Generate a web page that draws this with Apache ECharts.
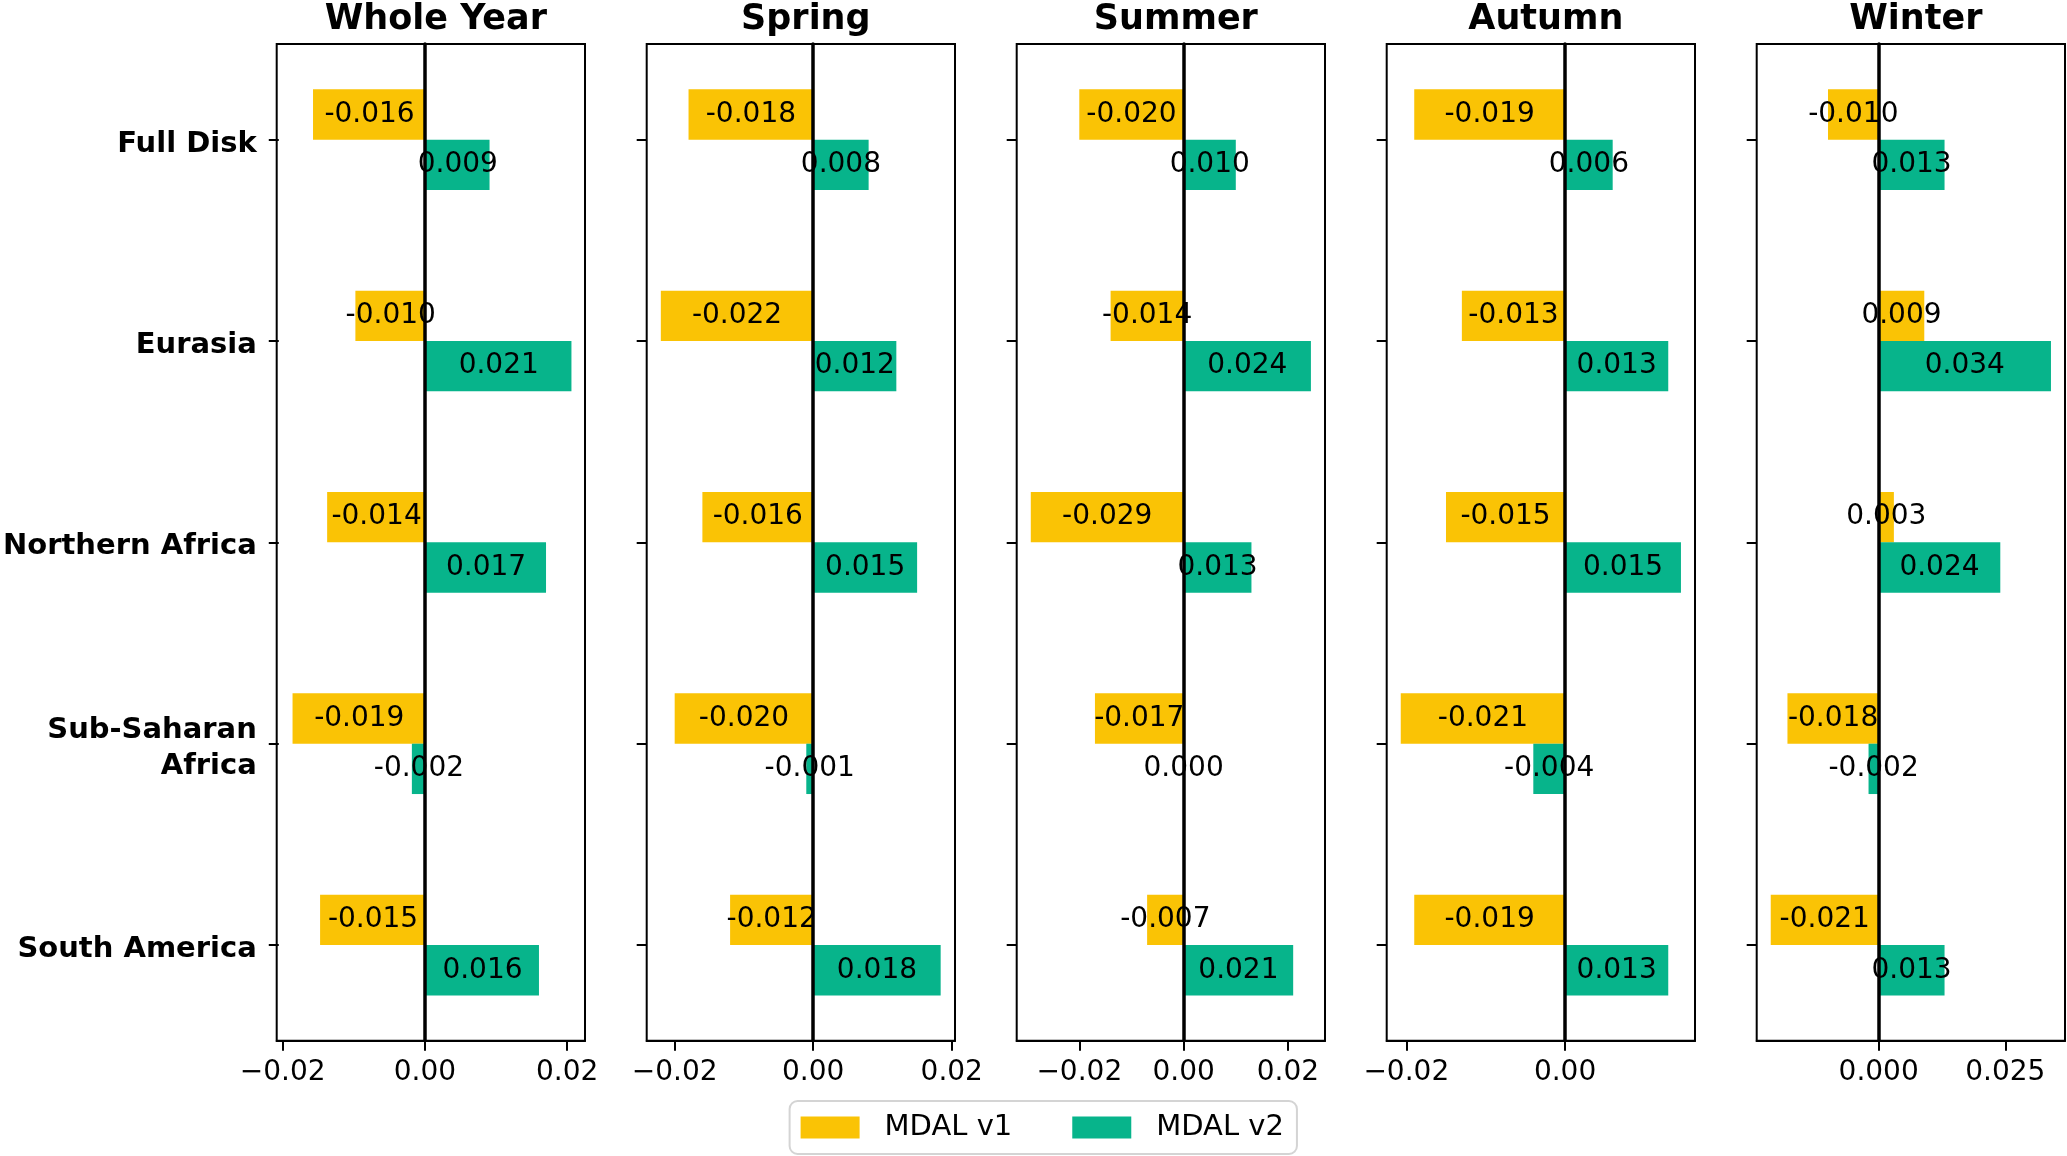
<!DOCTYPE html>
<html>
<head>
<meta charset="utf-8">
<script src="https://cdn.jsdelivr.net/npm/echarts@6/dist/echarts.min.js"></script>
<style>
html,body{margin:0;padding:0;background:#fff;}
#chart{width:2067px;height:1156px;}
</style>
</head>
<body>
<div id="chart"></div>
<script>
// ---- data ----
const categories = ['Full Disk', 'Eurasia', 'Northern Africa', 'Sub-Saharan\nAfrica', 'South America'];
const panelTitles = ['Whole Year', 'Spring', 'Summer', 'Autumn', 'Winter'];
const seriesNames = ['MDAL v1', 'MDAL v2'];

const wholeYearV1 = [-0.016, -0.010, -0.014, -0.0189, -0.015];
const wholeYearV2 = [0.009, 0.0206, 0.017, -0.002, 0.016];
const springV1 = [-0.018, -0.022, -0.016, -0.020, -0.012];
const springV2 = [0.008, 0.012, 0.015, -0.001, 0.0184];
const summerV1 = [-0.020, -0.014, -0.0293, -0.017, -0.007];
const summerV2 = [0.010, 0.0244, 0.013, 0.000, 0.021];
const autumnV1 = [-0.019, -0.013, -0.015, -0.0207, -0.019];
const autumnV2 = [0.006, 0.013, 0.0146, -0.004, 0.013];
const winterV1 = [-0.010, 0.009, 0.003, -0.018, -0.0213];
const winterV2 = [0.013, 0.034, 0.024, -0.002, 0.013];

const wholeYearTicks = [-0.02, 0.00, 0.02];
const springTicks = [-0.02, 0.00, 0.02];
const summerTicks = [-0.02, 0.00, 0.02];
const autumnTicks = [-0.02, 0.00];
const winterTicks = [0.000, 0.025];

// ---- build ----
const v1Sets = [wholeYearV1, springV1, summerV1, autumnV1, winterV1];
const v2Sets = [wholeYearV2, springV2, summerV2, autumnV2, winterV2];
const tickSets = [wholeYearTicks, springTicks, summerTicks, autumnTicks, winterTicks];
const tickDecimals = [2, 2, 2, 2, 3];
const xRanges = [[-0.02085, 0.02252], [-0.02404, 0.02047], [-0.0320, 0.0271], [-0.02247, 0.01637], [-0.02407, 0.03677]];

const colV1 = '#FAC305';
const colV2 = '#07B48B';
const FONT = 'DejaVu Sans';

// frame geometry (matplotlib axes) and category band geometry
const gridLeft0 = 276.7, gridStep = 370, gridW = 308.3, frameTop = 44, frameH = 996.7;
const catStep = frameH / 4.95;           // distance between category centres
const dataTop = frameTop - 0.025 * catStep;
const dataH = 5 * catStep;

const grids = [], xAxes = [], yAxes = [], series = [], titles = [];
for (let i = 0; i < 5; i++) {
  const left = gridLeft0 + gridStep * i;
  const dec = tickDecimals[i];
  // frame grid (index 2i)
  grids.push({left: left, top: frameTop, width: gridW, height: frameH, show: true,
    borderColor: '#000', borderWidth: 2, backgroundColor: 'transparent', containLabel: false});
  // data grid (index 2i+1)
  grids.push({left: left, top: dataTop, width: gridW, height: dataH, show: false, containLabel: false});

  titles.push({text: panelTitles[i], left: left + gridW / 2, top: -3, textAlign: 'center',
    textStyle: {fontFamily: FONT, fontWeight: 'bold', fontSize: 35, color: '#000'}});

  xAxes.push({type: 'value', gridIndex: 2 * i, min: xRanges[i][0], max: xRanges[i][1], z: 10,
    axisLine: {show: true, onZero: false, lineStyle: {color: '#000', width: 2}},
    axisTick: {show: true, length: 10, lineStyle: {color: '#000', width: 2}, customValues: tickSets[i]},
    axisLabel: {show: true, customValues: tickSets[i], margin: 18, fontFamily: FONT, fontSize: 28, color: '#000',
      formatter: function (v) { return (v < 0 ? '\u2212' : '') + Math.abs(v).toFixed(dec); }},
    splitLine: {show: false}});
  xAxes.push({type: 'value', gridIndex: 2 * i + 1, min: xRanges[i][0], max: xRanges[i][1], show: false,
    splitLine: {show: false}});

  // frame y axis: its line sits at x = 0 and forms the zero line
  yAxes.push({type: 'value', gridIndex: 2 * i, min: 0, max: 1, z: 10,
    axisLine: {show: true, onZero: true, lineStyle: {color: '#000', width: 3.5}},
    axisTick: {show: false}, axisLabel: {show: false}, splitLine: {show: false}});
  yAxes.push({type: 'category', gridIndex: 2 * i + 1, data: categories, inverse: true,
    axisLine: {show: false, onZero: false},
    axisTick: {show: true, alignWithLabel: true, length: 10, lineStyle: {color: '#000', width: 2}},
    axisLabel: {show: i === 0, margin: 22, align: 'right',
      formatter: function (v) { return v.split('\n').map(function (s) { return '{c|' + s + '}'; }).join('\n'); },
      rich: {c: {fontFamily: FONT, fontWeight: 'bold', fontSize: 29, color: '#000', lineHeight: 36,
        padding: [9, 0, 0, 0], align: 'right'}}},
    splitLine: {show: false}});

  const mk = function (name, data, color) {
    return {name: name, type: 'bar', xAxisIndex: 2 * i + 1, yAxisIndex: 2 * i + 1, data: data,
      barWidth: catStep * 0.25, barGap: '0%',
      itemStyle: {color: color},
      label: {show: true, position: 'inside', color: '#000', fontFamily: FONT, fontSize: 28,
        formatter: function (p) { return p.value.toFixed(3); }},
      z: 2};
  };
  series.push(mk(seriesNames[0], v1Sets[i], colV1));
  series.push(mk(seriesNames[1], v2Sets[i], colV2));
}

const chart = echarts.init(document.getElementById('chart'));
chart.setOption({
  animation: false,
  backgroundColor: '#fff',
  title: titles,
  grid: grids,
  xAxis: xAxes,
  yAxis: yAxes,
  series: series,
  legend: {data: seriesNames, left: 789.6, top: 1101, orient: 'horizontal',
    itemWidth: 59, itemHeight: 22, itemGap: 60, icon: 'rect',
    padding: [12, 13, 12, 11],
    borderColor: '#d4d4d4', borderWidth: 2, borderRadius: 8,
    textStyle: {fontFamily: FONT, fontSize: 29, color: '#000', padding: [0, 0, 0, 20]}}
});
</script>
</body>
</html>
